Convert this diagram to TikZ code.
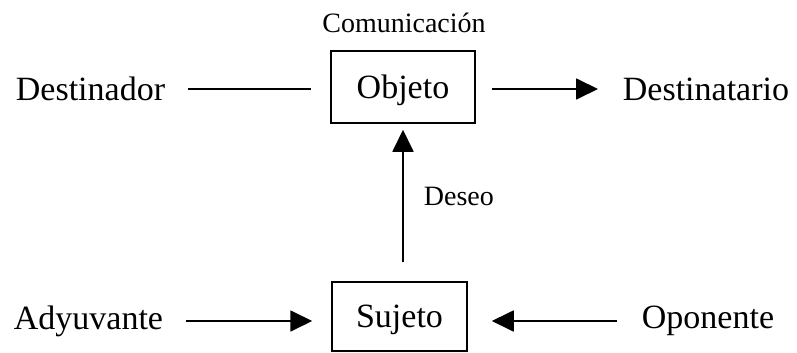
\documentclass[tikz,border=0pt]{standalone}
\usepackage{fontspec}
\setmainfont{Liberation Serif}
\usetikzlibrary{arrows.meta}

\begin{document}
\begin{tikzpicture}[x=1pt,y=-1pt,line width=1.8pt,
    >={Triangle[length=22pt,width=21pt]},
    actante/.style={inner sep=0pt,font=\fontsize{34}{40}\selectfont},
    caja/.style={draw,line width=1.5pt,inner sep=0pt,text depth=0pt,font=\fontsize{34}{40}\selectfont},
    etiqueta/.style={inner sep=0pt,font=\fontsize{28}{32}\selectfont}]
      \useasboundingbox (0,0) rectangle (797,353);

      \node[caja,minimum width=144pt,minimum height=72pt] (O) at (403,87) {Objeto};
      \node[caja,minimum width=135pt,minimum height=69pt] (S) at (399.5,316.5) {Sujeto};

      \node[actante,anchor=west] (D1) at (15,89) {Destinador};
      \node[actante,anchor=west] (D2) at (622,89) {Destinatario};
      \node[actante,anchor=west] (A) at (13,321) {Adyuvante};
      \node[actante,anchor=west] (Op) at (641,321) {Oponente};

      \node[etiqueta] (C) at (404,23) {Comunicación};
      \node[etiqueta,anchor=west] (L) at (423,196) {Deseo};

      \path (D1.east) edge[shorten <=22pt,shorten >=19pt] (D1.east -| O.west);
      \path (O.east |- D2.west) edge[->,shorten <=16pt,shorten >=24pt] (D2.west);
      \path (A.east) edge[->,shorten <=22pt,shorten >=19pt] (A.east -| S.west);
      \path (Op.west) edge[->,shorten <=24pt,shorten >=24pt] (Op.west -| S.east);
      \path (S.north -| O.south) edge[->,shorten <=19pt,shorten >=6pt] (O.south);
    \end{tikzpicture}
\end{document}
